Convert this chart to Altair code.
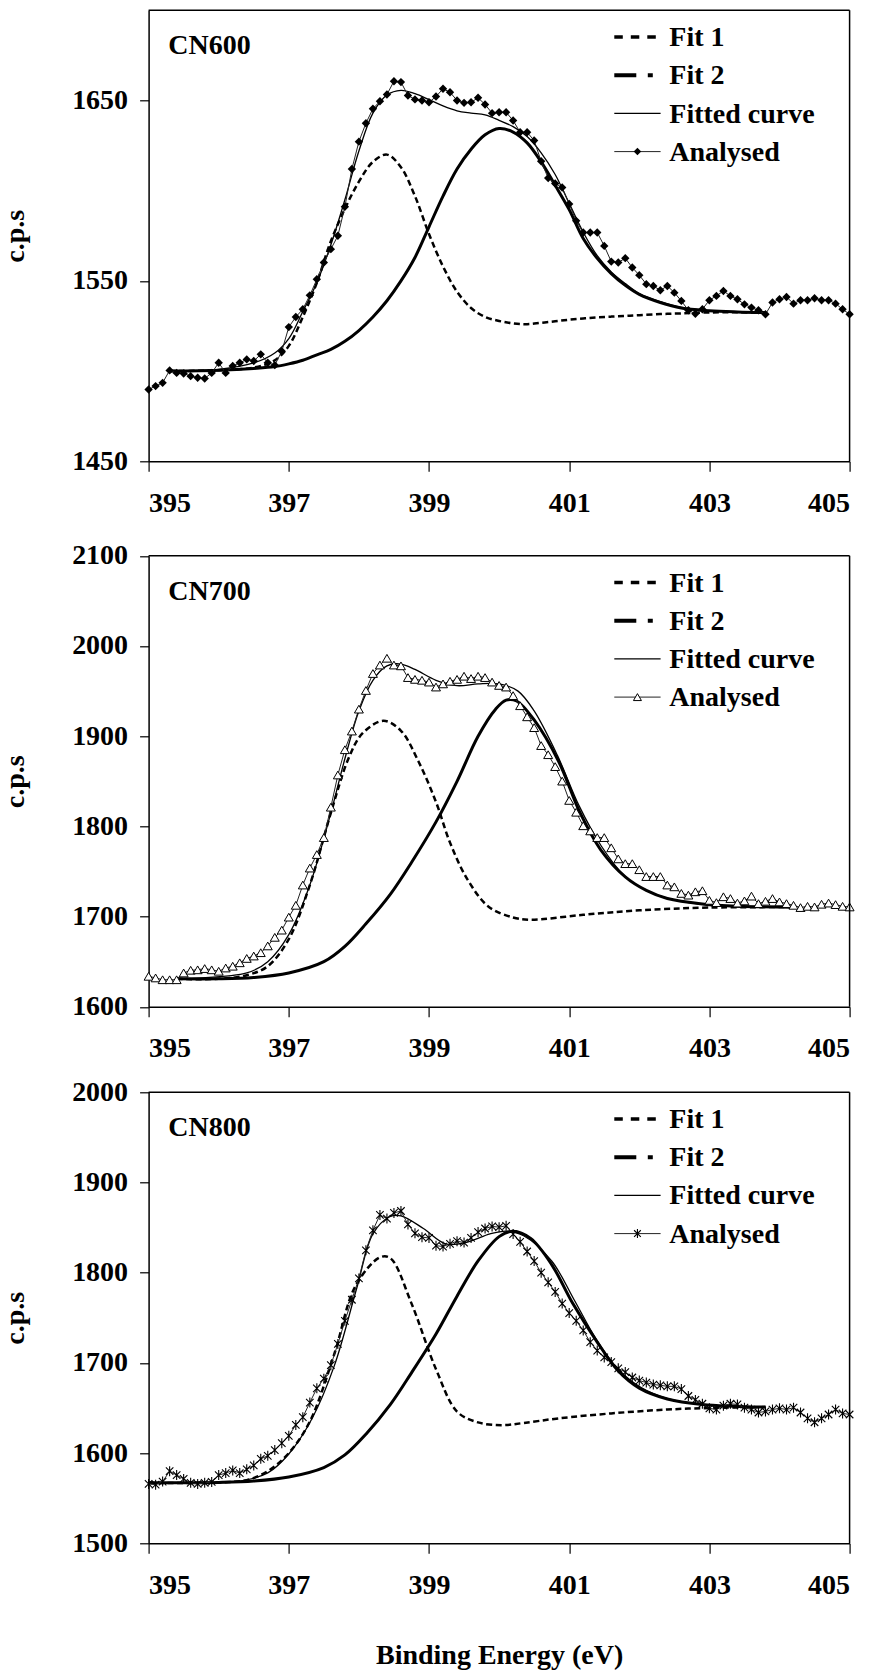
import altair as alt
import pandas as pd

FONT = "'Liberation Serif', 'Times New Roman', Times, serif"
FS = 28
W = 701
PLOT_H = 451

# ---------------- data ----------------
ENERGY = [round(395 + 0.1 * i, 1) for i in range(101)]
X_TICKS = [395, 397, 399, 401, 403, 405]

CN600_ANALYSED = [
    1489.8, 1491.7, 1493.5, 1500.4, 1499.0, 1498.7, 1497.2, 1496.3, 1495.9, 1499.0,
    1504.6, 1499.0, 1502.8, 1504.6, 1506.5, 1505.6, 1509.3, 1504.6, 1503.3, 1511.0,
    1524.4, 1530.0, 1534.3, 1542.0, 1550.9, 1560.2, 1567.6, 1575.0, 1591.1, 1612.0,
    1627.2, 1637.4, 1645.4, 1649.6, 1653.3, 1660.7, 1660.2, 1652.8, 1650.6, 1650.0,
    1649.0, 1652.2, 1656.5, 1654.6, 1650.0, 1648.7, 1649.0, 1651.5, 1647.8, 1643.0,
    1643.5, 1643.5, 1638.9, 1632.4, 1632.4, 1627.8, 1616.3, 1607.0, 1604.0, 1601.8,
    1592.6, 1583.3, 1576.8, 1576.8, 1576.8, 1569.4, 1560.7, 1560.2, 1562.6, 1557.4,
    1553.2, 1548.2, 1547.2, 1544.8, 1547.2, 1543.5, 1538.9, 1533.7, 1531.8, 1534.3,
    1539.3, 1541.7, 1544.4, 1541.7, 1539.8, 1537.0, 1535.2, 1533.7, 1531.5, 1538.0,
    1539.8, 1541.1, 1537.4, 1539.3, 1539.3, 1540.4, 1539.3, 1539.3, 1537.4, 1534.3,
    1531.5,
]
CN600_GRID = [395.3, 396.0, 396.5, 396.8, 397.0, 397.2, 397.4, 397.6, 397.8, 398.0,
              398.2, 398.4, 398.6, 398.8, 399.0, 399.2, 399.4, 399.6, 399.8, 400.0,
              400.2, 400.4, 400.6, 400.8, 401.0, 401.2, 401.4, 401.6, 401.8, 402.0,
              402.3, 402.6, 403.0, 403.4, 403.8]
CN600_FIT1 = [1500, 1500.5, 1502, 1506, 1514, 1530, 1549, 1572, 1590, 1605,
              1616, 1620, 1613, 1597, 1576, 1558, 1544, 1535, 1530, 1527.8,
              1526.5, 1526, 1526.8, 1527.6, 1528.5, 1529.2, 1529.8, 1530.2, 1530.6, 1531,
              1531.6, 1532, 1532.5, 1532.6, 1532.4]
CN600_FIT2 = [1500, 1500.5, 1501.5, 1502.5, 1504, 1506, 1509, 1512, 1516.5, 1522.5,
              1530, 1539, 1550, 1563, 1580, 1597, 1612, 1623, 1631, 1634.5,
              1632.5, 1626.5, 1616, 1603, 1589.5, 1573.5, 1562.5, 1554, 1547.5, 1542.5,
              1538, 1535, 1533.5, 1532.8, 1532.4]
CN600_FITTED = [1500, 1501, 1504.5, 1510, 1518, 1533, 1549, 1570, 1595, 1622,
                1643, 1653, 1655.6, 1653.8, 1650.5, 1647, 1644.3, 1643, 1642, 1639,
                1635.5, 1630, 1621, 1609, 1593, 1577, 1564, 1555, 1548.5, 1543,
                1538.5, 1535.3, 1533.5, 1532.8, 1532.4]

CN700_ANALYSED = [
    1633.8, 1632.0, 1630.0, 1630.0, 1630.0, 1637.5, 1640.5, 1641.0, 1642.4, 1641.0,
    1639.4, 1643.0, 1645.0, 1648.8, 1653.6, 1656.3, 1660.0, 1667.5, 1677.0, 1685.0,
    1699.4, 1712.5, 1735.0, 1753.8, 1768.8, 1787.6, 1821.3, 1857.0, 1885.0, 1905.7,
    1930.0, 1950.7, 1969.5, 1978.9, 1986.4, 1978.9, 1978.0, 1965.0, 1963.0, 1962.0,
    1960.0, 1954.5, 1958.0, 1960.9, 1963.0, 1966.5, 1963.9, 1966.5, 1965.0, 1960.0,
    1956.3, 1954.5, 1945.0, 1933.8, 1921.5, 1909.5, 1889.6, 1879.5, 1866.3, 1850.2,
    1828.8, 1815.7, 1800.7, 1795.0, 1787.6, 1787.6, 1776.3, 1764.0, 1758.7, 1758.7,
    1752.0, 1744.4, 1744.4, 1744.4, 1735.0, 1733.0, 1725.7, 1723.8, 1727.5, 1728.7,
    1718.0, 1715.5, 1722.0, 1720.0, 1715.0, 1717.4, 1722.7, 1714.4, 1717.0, 1720.0,
    1716.3, 1714.4, 1712.5, 1710.0, 1711.4, 1710.7, 1713.7, 1715.0, 1713.3, 1711.4,
    1710.7,
]
CN700_FIT1_E = [395.4, 396.0, 396.4, 396.7, 397.0, 397.3, 397.6, 397.85, 398.05, 398.35,
                398.6, 398.85, 399.1, 399.3, 399.55, 399.85, 400.2, 400.45, 401.2, 402.0,
                403.0, 404.2]
CN700_FIT1 = [1631, 1631, 1635, 1645, 1675, 1735, 1815, 1875, 1903, 1917,
              1906, 1872, 1827, 1782, 1741, 1711, 1699, 1696.5, 1702, 1707,
              1710, 1710.5]
CN700_FIT2_E = [395.4, 396.0, 396.5, 397.0, 397.5, 397.8, 398.1, 398.45, 398.75, 399.1,
                399.4, 399.7, 399.95, 400.1, 400.25, 400.5, 400.85, 401.15, 401.45, 401.8,
                402.1, 402.4, 402.9, 403.4, 404.2]
CN700_FIT2 = [1631, 1631, 1632.5, 1637.5, 1650, 1667, 1692, 1725, 1760, 1805,
              1850, 1900, 1930, 1940, 1939, 1918, 1872, 1816, 1774, 1744,
              1729, 1720, 1714, 1711.5, 1710.5]
CN700_FITTED_E = [395.4, 396.4, 396.7, 397.0, 397.3, 397.6, 397.8, 398.0, 398.2, 398.4,
                  398.6, 398.8, 399.1, 399.4, 399.7, 400.0, 400.27, 400.5, 400.83, 401.14,
                  401.46, 401.78, 402.1, 402.42, 403.05, 404.2]
CN700_FITTED = [1631, 1637.5, 1650, 1680, 1735, 1815, 1875, 1928, 1962, 1978,
                1980, 1974, 1962, 1956, 1958, 1958, 1950, 1928, 1879, 1823,
                1778, 1746, 1729, 1720, 1712.5, 1710.5]

CN800_ANALYSED = [
    1565.8, 1565.0, 1568.4, 1580.0, 1575.6, 1571.4, 1567.0, 1565.8, 1567.0, 1568.0,
    1575.6, 1577.8, 1580.8, 1577.8, 1582.0, 1586.3, 1593.6, 1597.0, 1603.4, 1611.0,
    1619.2, 1631.2, 1639.8, 1656.0, 1671.8, 1682.5, 1697.5, 1721.0, 1746.6, 1770.0,
    1793.6, 1824.8, 1847.0, 1864.0, 1860.0, 1866.3, 1868.4, 1853.5, 1843.6, 1839.4,
    1838.5, 1830.0, 1829.0, 1832.0, 1835.0, 1833.4, 1838.5, 1845.0, 1849.0, 1851.3,
    1850.5, 1852.0, 1842.8, 1834.2, 1823.5, 1812.9, 1800.0, 1789.3, 1778.7, 1765.8,
    1755.2, 1746.6, 1736.0, 1723.0, 1713.7, 1706.0, 1700.9, 1694.0, 1689.8, 1683.8,
    1680.4, 1678.2, 1676.0, 1675.2, 1674.0, 1674.0, 1671.0, 1663.3, 1659.0, 1654.7,
    1649.6, 1648.3, 1652.6, 1654.7, 1653.9, 1650.4, 1648.3, 1645.0, 1646.2, 1648.3,
    1649.6, 1648.3, 1650.4, 1645.0, 1638.5, 1634.2, 1638.5, 1642.8, 1648.3, 1644.0,
    1642.8,
]
CN800_FIT1_E = [395.0, 396.0, 396.4, 396.7, 397.0, 397.3, 397.65, 397.95, 398.3, 398.45,
                398.75, 399.1, 399.4, 399.7, 400.05, 400.35, 400.85, 401.6, 402.4, 403.0,
                403.8]
CN800_FIT1 = [1567, 1567.5, 1570, 1580, 1600, 1635, 1710, 1785, 1817, 1816,
              1766, 1693, 1646, 1634, 1631, 1633.4, 1638.5, 1644, 1648.3, 1650,
              1651]
CN800_FIT2_E = [395.0, 396.0, 396.5, 397.0, 397.5, 397.8, 398.1, 398.45, 398.75, 399.1,
                399.4, 399.7, 400.0, 400.2, 400.45, 400.75, 401.05, 401.4, 401.7, 402.0,
                402.4, 402.9, 403.8]
CN800_FIT2 = [1567, 1567.5, 1569, 1573.5, 1584, 1598, 1621, 1654, 1689, 1732,
              1774, 1813, 1840, 1846, 1838, 1809, 1766, 1723, 1691, 1672,
              1660, 1654, 1651]
CN800_FITTED_E = [395.0, 396.3, 396.7, 397.0, 397.33, 397.65, 397.97, 398.2, 398.44, 398.6,
                  398.92, 399.24, 399.55, 399.87, 400.11, 400.35, 400.75, 401.07, 401.38, 401.7,
                  402.02, 402.42, 402.89, 403.77]
CN800_FITTED = [1567, 1569, 1578, 1599, 1638, 1697, 1783, 1843, 1862, 1863,
                1849, 1832, 1834, 1843, 1846, 1841, 1813, 1770, 1727, 1693,
                1673, 1660, 1654, 1651.3]

LEGEND_LABELS = ["Fit 1", "Fit 2", "Fitted curve", "Analysed"]
ASTERISK = "M-0.75,-0.75L0.75,0.75M-0.75,0.75L0.75,-0.75M0,-1L0,1"

ONE = pd.DataFrame({"a": [0]})


def marker_kw(kind, size):
    if kind == "diamond":
        return dict(shape="diamond", filled=True, color="black", size=size, opacity=1)
    if kind == "triangle":
        return dict(shape="triangle-up", filled=True, fill="white", stroke="black",
                    strokeWidth=1, size=size, opacity=1)
    return dict(shape=ASTERISK, filled=False, stroke="black", strokeWidth=1.1,
                size=size, opacity=1)


def make_panel(name, analysed, f1e, f1v, f2e, f2v, fce, fcv, ydom, yticks,
               marker, top_off, last):
    H = PLOT_H + top_off
    xaxis_kw = dict(values=X_TICKS, format="d", tickSize=10, labelPadding=18,
                    grid=False)
    if last:
        xaxis_kw.update(title="Binding Energy (eV)", titleY=120.5,
                        titleBaseline="alphabetic")
    else:
        xaxis_kw.update(title=None)
    X = alt.X("E:Q", scale=alt.Scale(domain=[395, 405], nice=False, zero=False),
              axis=alt.Axis(**xaxis_kw))
    Y = alt.Y("V:Q", scale=alt.Scale(domain=ydom, range=[H, top_off], nice=False,
                                     zero=False),
              axis=alt.Axis(values=yticks, format="d", tickSize=9, labelPadding=12,
                            grid=False, title="c.p.s", titleX=-133,
                            titleY=top_off + PLOT_H / 2, titleAngle=-90,
                            titleBaseline="middle", titleAlign="center"))

    def curve(E, V, **kw):
        return alt.Chart(pd.DataFrame({"E": E, "V": V})).mark_line(
            color="black", interpolate="catmull-rom", **kw).encode(x=X, y=Y)

    fit1 = curve(f1e, f1v, strokeWidth=2.5, strokeDash=[6, 3.5])
    fit2 = curve(f2e, f2v, strokeWidth=3)
    fitted = curve(fce, fcv, strokeWidth=1.3)
    adf = pd.DataFrame({"E": ENERGY, "V": analysed})
    aline = alt.Chart(adf).mark_line(color="#222222", strokeWidth=1).encode(x=X, y=Y)
    msize = {"diamond": 70, "triangle": 80, "star": 100}[marker]
    apts = alt.Chart(adf).mark_point(**marker_kw(marker, msize)).encode(x=X, y=Y)

    top_rule = alt.Chart(ONE).mark_rule(color="black", strokeWidth=1.5).encode(
        x=alt.value(0), x2=alt.value(W), y=alt.value(top_off))
    right_rule = alt.Chart(ONE).mark_rule(color="black", strokeWidth=1.5).encode(
        x=alt.value(W), y=alt.value(top_off), y2=alt.value(H))

    label = alt.Chart(ONE).mark_text(
        font=FONT, fontSize=FS, fontWeight="bold", align="left",
        baseline="alphabetic", color="black").encode(
        x=alt.value(19.7), y=alt.value(top_off + 44), text=alt.value(name))

    lx0, lx1, tx = 465.7, 512, 520.7
    sym_y = [26.7, 64.9, 103.1, 141.3]
    txt_y = [35.8, 74.0, 112.2, 150.4]
    leg = []
    leg.append(alt.Chart(ONE).mark_rule(color="black", strokeWidth=3.3,
                                         strokeDash=[8.5, 8]).encode(
        x=alt.value(lx0), x2=alt.value(lx0 + 43.5), y=alt.value(top_off + sym_y[0])))
    leg.append(alt.Chart(ONE).mark_rule(color="black", strokeWidth=4,
                                         strokeDash=[22, 11.5, 5, 30]).encode(
        x=alt.value(lx0), x2=alt.value(lx0 + 38.5), y=alt.value(top_off + sym_y[1])))
    leg.append(alt.Chart(ONE).mark_rule(color="black", strokeWidth=1.3).encode(
        x=alt.value(lx0), x2=alt.value(lx1), y=alt.value(top_off + sym_y[2])))
    leg.append(alt.Chart(ONE).mark_rule(color="#222222", strokeWidth=1).encode(
        x=alt.value(lx0), x2=alt.value(lx1), y=alt.value(top_off + sym_y[3])))
    leg.append(alt.Chart(ONE).mark_point(**marker_kw(marker, msize * 0.8)).encode(
        x=alt.value((lx0 + lx1) / 2), y=alt.value(top_off + sym_y[3])))
    for lab, ty in zip(LEGEND_LABELS, txt_y):
        leg.append(alt.Chart(ONE).mark_text(
            font=FONT, fontSize=FS, fontWeight="bold", align="left",
            baseline="alphabetic", color="black").encode(
            x=alt.value(tx), y=alt.value(top_off + ty), text=alt.value(lab)))

    return alt.layer(fit1, fit2, fitted, aline, apts, top_rule, right_rule, label,
                     *leg).properties(width=W, height=H)


p1 = make_panel("CN600", CN600_ANALYSED, CN600_GRID, CN600_FIT1, CN600_GRID,
                CN600_FIT2, CN600_GRID, CN600_FITTED, [1450, 1700],
                [1450, 1550, 1650], "diamond", 0, False)
p2 = make_panel("CN700", CN700_ANALYSED, CN700_FIT1_E, CN700_FIT1, CN700_FIT2_E,
                CN700_FIT2, CN700_FITTED_E, CN700_FITTED, [1600, 2100],
                [1600, 1700, 1800, 1900, 2000, 2100], "triangle", 9.5, False)
p3 = make_panel("CN800", CN800_ANALYSED, CN800_FIT1_E, CN800_FIT1, CN800_FIT2_E,
                CN800_FIT2, CN800_FITTED_E, CN800_FITTED, [1500, 2000],
                [1500, 1600, 1700, 1800, 1900, 2000], "star", 0, True)

chart = alt.vconcat(p1, p2, p3, spacing=85, bounds="flush").properties(
    padding={"left": 1.6, "top": 9.3, "right": 5, "bottom": 5},
    background="white",
).configure_view(stroke=None).configure_axis(
    labelFont=FONT, labelFontSize=FS, labelFontWeight="bold", labelColor="black",
    titleFont=FONT, titleFontSize=FS, titleFontWeight="bold", titleColor="black",
    domainColor="black", domainWidth=1.5, tickColor="black", tickWidth=1.2,
)

chart.save("out.html", embed_options={"renderer": "svg", "actions": False})
